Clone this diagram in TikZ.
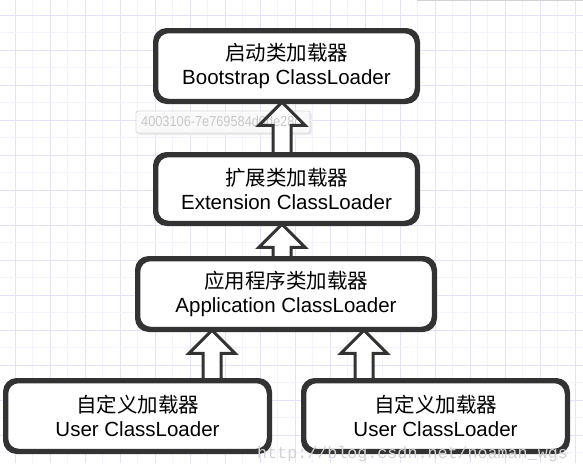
\documentclass[tikz,border=0pt]{standalone}
\usepackage{fontspec}
\setmainfont{Liberation Sans}
\newfontfamily\cjk{Noto Sans CJK SC}
\newfontfamily\wmmono{Liberation Mono}
\usetikzlibrary{calc}
\definecolor{gridA}{HTML}{E6E1FA}
\definecolor{gridB}{HTML}{F4F2FD}
\definecolor{ink}{HTML}{333333}
\definecolor{wm}{HTML}{C8C8C8}
\definecolor{wmurl}{HTML}{D2D2D2}
\tikzset{
  loaderbox/.style={draw=ink, line width=3.5pt, rounded corners=12pt, fill=white,
    align=center, inner sep=0pt, minimum height=69pt,
    font=\fontsize{20.5}{24}\selectfont},
  blockarr/.style={draw=ink, line width=3pt, fill=white, line join=miter},
  blockline/.style={draw=ink, line width=3pt, line join=miter},
  blockfill/.style={fill=white},
}
\newcommand\hollowup[3][blockarr]{%
  \path[#1] let \p1=(#2), \p2=(#3) in
    (\x1,\y1) -- (\x1+23pt,\y1-23pt) -- (\x1+9pt,\y1-23pt) -- (\x1+9pt,\y2)
    -- (\x1-9pt,\y2) -- (\x1-9pt,\y1-23pt) -- (\x1-23pt,\y1-23pt) -- cycle;}
\begin{document}
\begin{tikzpicture}[x=1pt,y=-1pt]
\useasboundingbox (0,0) rectangle (583,463);
\fill[white] (0,0) rectangle (583,463);
% grid
\foreach \k in {0,...,16} {
  \draw[gridA, line width=1pt] ({15+35*\k},0) -- ({15+35*\k},463);
  \draw[gridB, line width=1pt] ({32.5+35*\k},0) -- ({32.5+35*\k},463);
}
\foreach \k in {0,...,13} {
  \draw[gridA, line width=1pt] (0,{15+35*\k}) -- (583,{15+35*\k});
  \draw[gridB, line width=1pt] (0,{32.5+35*\k}) -- (583,{32.5+35*\k});
}
\draw[gray!35, line width=1pt] (417,0.5) -- (583,0.5);
% boxes
\node[loaderbox, minimum width=260pt] (boot) at (286.5,66) {{\cjk 启动类加载器}\\Bootstrap ClassLoader};
\node[loaderbox, minimum width=260pt, minimum height=67pt] (ext) at (286.5,189) {{\cjk 扩展类加载器}\\Extension ClassLoader};
\node[loaderbox, minimum width=295pt] (app) at (286,294) {{\cjk 应用程序类加载器}\\Application ClassLoader};
\node[loaderbox, minimum width=262pt] (user1) at (137.5,416) {{\cjk 自定义加载器}\\User ClassLoader};
\node[loaderbox, minimum width=262pt] (user2) at (435.5,416) {{\cjk 自定义加载器}\\User ClassLoader};
% arrow anchor points
\coordinate (a1t) at (282,0 |- boot.south);
\coordinate (a1b) at (282,0 |- ext.north);
\coordinate (a2t) at (282,0 |- ext.south);
\coordinate (a2b) at (282,0 |- app.north);
\coordinate (a3t) at (212,0 |- app.south);
\coordinate (a3b) at (212,0 |- user1.north);
\coordinate (a4t) at (364,0 |- app.south);
\coordinate (a4b) at (364,0 |- user2.north);
% watermark tooltip (under the first arrow's outline)
\fill[gray!14, rounded corners=2pt] (138,113) rectangle (312,135);
\fill[white, fill opacity=0.7] (136,111) rectangle (310,133);
\draw[gray!30, line width=0.8pt, rounded corners=2pt] (136,111) rectangle (310,133);
\hollowup[blockfill]{a1t}{a1b}
\node[anchor=west, text=wm, inner sep=0pt, font=\fontsize{14.5}{14.5}\selectfont] (tiptext) at (141,121.5) {\scalebox{0.88}[1]{4003106-7e769584d0de28c}};
% arrows
\hollowup[blockline]{a1t}{a1b}
\hollowup{a2t}{a2b}
\hollowup{a3t}{a3b}
\hollowup{a4t}{a4b}
% box borders over arrow ends
\foreach \n in {boot,ext,app,user1,user2} {
  \draw[ink, line width=3.5pt, rounded corners=12pt] (\n.north west) rectangle (\n.south east);
}
% bottom watermark
\node[anchor=base west, text=wmurl, inner sep=0pt, font=\wmmono\fontsize{16.7}{17}\selectfont] (url) at (257,458) {http://blog.csdn.net/noaman\_wgs};
\end{tikzpicture}
\end{document}
